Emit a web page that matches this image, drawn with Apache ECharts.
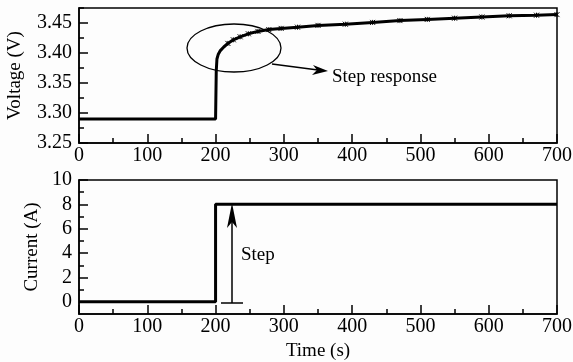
<!DOCTYPE html>
<html>
<head>
<meta charset="utf-8">
<script src="https://cdn.jsdelivr.net/npm/echarts@6/dist/echarts.min.js"></script>
<style>
  html, body { margin: 0; padding: 0; background: #fdfdfd; }
  #chart { width: 573px; height: 362px; }
</style>
</head>
<body>
<div id="chart"></div>
<script>
// voltage step response (top panel)
const voltTime = [0, 200, 201, 202, 204, 207, 212, 218, 226, 236, 248, 262, 278, 296, 320, 350, 390, 430, 470, 510, 550, 590, 630, 670, 700]
const voltValue = [3.29, 3.29, 3.37, 3.39, 3.398, 3.404, 3.41, 3.416, 3.422, 3.427, 3.432, 3.436, 3.439, 3.441, 3.443, 3.446, 3.448, 3.451, 3.454, 3.456, 3.458, 3.460, 3.462, 3.463, 3.464]

// current step (bottom panel)
const currTime = [0, 200, 200, 700]
const currValue = [0, 0, 8, 8]

// tick labels
const timeTicks = [0, 100, 200, 300, 400, 500, 600, 700]
const voltTicks = [3.25, 3.30, 3.35, 3.40, 3.45]
const voltMinor = [3.275, 3.325, 3.375, 3.425, 3.475]
const currTicks = [0, 2, 4, 6, 8, 10]
const currMinor = [1, 3, 5, 7, 9]

const font = '"Liberation Serif", "Times New Roman", serif'
const black = '#000'
const chart = echarts.init(document.getElementById('chart'))

const xAxisBase = (gridIndex) => ({
  type: 'value',
  gridIndex,
  min: 0,
  max: 700,
  interval: 100,
  axisLine: { show: true, onZero: false, lineStyle: { color: black, width: 1.5 } },
  axisTick: { show: true, inside: true, length: 9, lineStyle: { color: black, width: 1.5 } },
  minorTick: { show: true, splitNumber: 2, length: 5, lineStyle: { color: black, width: 1.5 } },
  splitLine: { show: false },
  axisLabel: { color: black, fontFamily: font, fontSize: 20, margin: 3, customValues: timeTicks, hideOverlap: false }
})

const yMain = (gridIndex, min, max, ticks, fmt, name, nameGap) => ({
  type: 'value',
  gridIndex,
  min,
  max,
  name,
  nameLocation: 'middle',
  nameGap,
  nameTextStyle: { color: black, fontFamily: font, fontSize: 19 },
  axisLine: { show: true, onZero: false, lineStyle: { color: black, width: 1.5 } },
  axisTick: { show: true, inside: true, length: 9, customValues: ticks, lineStyle: { color: black, width: 1.5 } },
  splitLine: { show: false },
  axisLabel: { color: black, fontFamily: font, fontSize: 20, margin: 7, customValues: ticks, formatter: fmt, hideOverlap: false }
})

const yMinor = (gridIndex, min, max, ticks) => ({
  type: 'value',
  gridIndex,
  min,
  max,
  position: 'left',
  axisLine: { show: false, onZero: false },
  axisTick: { show: true, inside: true, length: 5, customValues: ticks, lineStyle: { color: black, width: 1.5 } },
  splitLine: { show: false },
  axisLabel: { show: false }
})

// small cross marks along the measured curve
const crossPath = 'path://M0,0L10,10M10,0L0,10M5,0L5,10'

const option = {
  backgroundColor: '#fdfdfd',
  animation: false,
  grid: [
    { left: 79, right: 16, top: 8, height: 135, show: true, borderColor: black, borderWidth: 1.5, outerBoundsMode: 'none' },
    { left: 79, right: 16, top: 180, height: 134, show: true, borderColor: black, borderWidth: 1.5, outerBoundsMode: 'none' }
  ],
  xAxis: [
    xAxisBase(0),
    Object.assign(xAxisBase(1), {
      name: 'Time (s)',
      nameLocation: 'middle',
      nameGap: 28,
      nameTextStyle: { color: black, fontFamily: font, fontSize: 19 }
    })
  ],
  yAxis: [
    yMain(0, 3.25, 3.475, voltTicks, (v) => v.toFixed(2), 'Voltage (V)', 54),
    yMinor(0, 3.25, 3.475, voltMinor),
    yMain(1, -1, 10, currTicks, (v) => String(v), 'Current (A)', 37),
    yMinor(1, -1, 10, currMinor)
  ],
  series: [
    {
      type: 'line',
      xAxisIndex: 0,
      yAxisIndex: 0,
      data: voltTime.map((t, i) => [t, voltValue[i]]),
      symbol: (v, p) => (p.dataIndex < 7 ? 'none' : crossPath),
      symbolSize: 5,
      showSymbol: true,
      itemStyle: { color: 'transparent', borderColor: black, borderWidth: 1 },
      lineStyle: { color: black, width: 3 }
    },
    {
      type: 'line',
      xAxisIndex: 1,
      yAxisIndex: 2,
      data: currTime.map((t, i) => [t, currValue[i]]),
      symbol: 'none',
      lineStyle: { color: black, width: 3 }
    }
  ],
  graphic: [
    // ellipse around the step response
    { type: 'ellipse', shape: { cx: 234, cy: 48, rx: 47, ry: 24 }, style: { fill: 'none', stroke: black, lineWidth: 1.3 } },
    { type: 'line', shape: { x1: 272, y1: 64, x2: 318, y2: 70 }, style: { stroke: black, lineWidth: 1.5 } },
    { type: 'polygon', shape: { points: [[328, 71], [313, 65], [317, 70], [312, 75]] }, style: { fill: black } },
    { type: 'text', x: 332, y: 77, style: { text: 'Step response', fill: black, font: '19px ' + font, verticalAlign: 'middle' } },
    // step arrow in the current panel
    { type: 'line', shape: { x1: 232, y1: 303, x2: 232, y2: 215 }, style: { stroke: black, lineWidth: 1.5 } },
    { type: 'line', shape: { x1: 221, y1: 303, x2: 243, y2: 303 }, style: { stroke: black, lineWidth: 1.5 } },
    { type: 'polygon', shape: { points: [[232, 203], [237, 228], [232, 222], [227, 228]] }, style: { fill: black } },
    { type: 'text', x: 241, y: 255, style: { text: 'Step', fill: black, font: '19px ' + font, verticalAlign: 'middle' } }
  ]
}

chart.setOption(option)
</script>
</body>
</html>
